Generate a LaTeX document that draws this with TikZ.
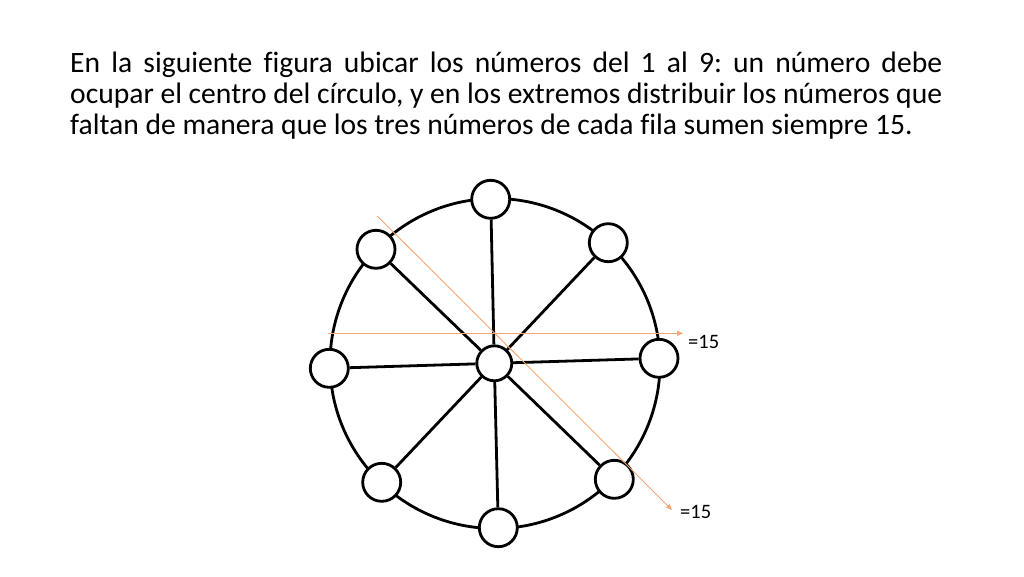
\documentclass[tikz,border=0pt]{standalone}
\usepackage{fontspec}
\setmainfont{Carlito}[Ligatures=NoCommon]
\usetikzlibrary{arrows.meta}
\definecolor{arrorange}{RGB}{242,168,118}
\begin{document}
\frenchspacing
\begin{tikzpicture}[x=1pt,y=-1pt,
  spot/.style={circle,draw=black,line width=2.8pt,fill=white,minimum size=38pt,inner sep=0pt},
  hub/.style={circle,draw=black,line width=2.8pt,fill=white,minimum size=35pt,inner sep=0pt},
  spoke/.style={line width=2.8pt,black},
  guide/.style={draw=arrorange,line width=0.9pt,-{Triangle[length=6pt,width=5pt]}},
  titleline/.style={anchor=base west,inner sep=0pt,font=\fontsize{29.6}{31}\selectfont},
  sumlabel/.style={anchor=base west,inner sep=0pt,font=\fontsize{20.5}{22}\selectfont}]
\useasboundingbox[fill=white] (0,0) rectangle (1024,576);
% title
\node[titleline] (l1) at (70,72) {\makebox[872pt][s]{En la siguiente figura ubicar los números del 1 al 9: un número debe}};
\node[titleline] (l2) at (70,103) {\makebox[872pt][s]{ocupar el centro del círculo, y en los extremos distribuir los números que}};
\node[titleline] (l3) at (70,134) {faltan de manera que los tres números de cada fila sumen siempre 15.};
% big circle
\draw[line width=2.8pt] (495,363.5) circle[radius=165];
% nodes
\node[hub]  (c)  at (494.3,363.3) {};
\node[spot] (t)  at (490.7,199.3) {};
\node[spot] (ur) at (608.3,242.7) {};
\node[spot] (r)  at (659,358.3) {};
\node[spot] (lr) at (614.3,479.3) {};
\node[spot] (b)  at (498.3,527.7) {};
\node[spot] (ll) at (381.7,482.3) {};
\node[spot] (l)  at (329.3,368.3) {};
\node[spot] (ul) at (376,249.3) {};
% spokes
\foreach \n in {t,ur,r,lr,b,ll,l,ul} \draw[spoke] (c) -- (\n);
% guide arrows
\coordinate (h0) at (328,333.3);
\coordinate (h1) at (683,333.3);
\coordinate (d0) at (377.3,216);
\coordinate (d1) at (672,510);
\draw[guide] (h0) -- (h1);
\draw[guide] (d0) -- (d1);
\node[sumlabel] (s1) at (688,348) {=15};
\node[sumlabel] (s2) at (680,518) {=15};
\end{tikzpicture}
\end{document}
